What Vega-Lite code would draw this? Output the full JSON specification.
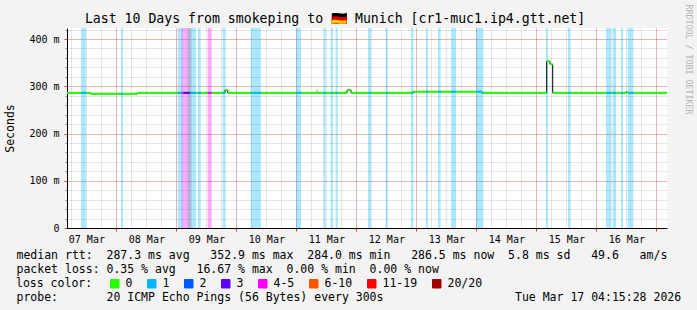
{
  "$schema": "https://vega.github.io/schema/vega-lite/v6.json",
  "width": 600,
  "height": 200,
  "autosize": {"type": "none"},
  "padding": {"left": 67, "top": 28, "right": 30, "bottom": 82},
  "background": "#f3f3f3",
  "datasets": {
    "bands": [
      {"start": "2026-03-07T09:50:00Z", "end": "2026-03-07T11:50:00Z", "loss": "1"},
      {"start": "2026-03-08T01:51:00Z", "end": "2026-03-08T02:39:00Z", "loss": "1"},
      {"start": "2026-03-09T00:32:00Z", "end": "2026-03-09T01:59:00Z", "loss": "1"},
      {"start": "2026-03-09T01:59:00Z", "end": "2026-03-09T02:47:00Z", "loss": "3"},
      {"start": "2026-03-09T02:47:00Z", "end": "2026-03-09T04:23:00Z", "loss": "4-5"},
      {"start": "2026-03-09T04:23:00Z", "end": "2026-03-09T05:44:00Z", "loss": "3"},
      {"start": "2026-03-09T05:44:00Z", "end": "2026-03-09T07:51:00Z", "loss": "1"},
      {"start": "2026-03-09T08:40:00Z", "end": "2026-03-09T09:44:00Z", "loss": "1"},
      {"start": "2026-03-09T12:32:00Z", "end": "2026-03-09T14:08:00Z", "loss": "4-5"},
      {"start": "2026-03-09T18:32:00Z", "end": "2026-03-09T19:44:00Z", "loss": "1"},
      {"start": "2026-03-10T05:44:00Z", "end": "2026-03-10T09:51:00Z", "loss": "1"},
      {"start": "2026-03-10T23:51:00Z", "end": "2026-03-11T01:51:00Z", "loss": "1"},
      {"start": "2026-03-11T10:47:00Z", "end": "2026-03-11T11:44:00Z", "loss": "1"},
      {"start": "2026-03-11T13:44:00Z", "end": "2026-03-11T14:39:00Z", "loss": "1"},
      {"start": "2026-03-11T15:44:00Z", "end": "2026-03-11T16:32:00Z", "loss": "1"},
      {"start": "2026-03-12T04:40:00Z", "end": "2026-03-12T05:52:00Z", "loss": "1"},
      {"start": "2026-03-12T11:44:00Z", "end": "2026-03-12T12:32:00Z", "loss": "1"},
      {"start": "2026-03-12T21:52:00Z", "end": "2026-03-12T22:47:00Z", "loss": "1"},
      {"start": "2026-03-13T03:52:00Z", "end": "2026-03-13T04:40:00Z", "loss": "1"},
      {"start": "2026-03-13T08:40:00Z", "end": "2026-03-13T09:44:00Z", "loss": "1"},
      {"start": "2026-03-13T13:52:00Z", "end": "2026-03-13T15:52:00Z", "loss": "1"},
      {"start": "2026-03-13T23:52:00Z", "end": "2026-03-14T02:47:00Z", "loss": "1"},
      {"start": "2026-03-15T03:52:00Z", "end": "2026-03-15T04:40:00Z", "loss": "1"},
      {"start": "2026-03-15T12:40:00Z", "end": "2026-03-15T13:44:00Z", "loss": "1"},
      {"start": "2026-03-16T03:52:00Z", "end": "2026-03-16T05:52:00Z", "loss": "1"},
      {"start": "2026-03-16T06:32:00Z", "end": "2026-03-16T07:52:00Z", "loss": "1"},
      {"start": "2026-03-16T09:52:00Z", "end": "2026-03-16T10:40:00Z", "loss": "1"},
      {"start": "2026-03-16T12:32:00Z", "end": "2026-03-16T14:48:00Z", "loss": "1"}
    ],
    "lossline": [
      {"start": "2026-03-07T09:50:00Z", "end": "2026-03-07T11:50:00Z", "loss": "1", "rtt": 286},
      {"start": "2026-03-08T01:51:00Z", "end": "2026-03-08T02:39:00Z", "loss": "1", "rtt": 284},
      {"start": "2026-03-09T00:32:00Z", "end": "2026-03-09T01:59:00Z", "loss": "1", "rtt": 286},
      {"start": "2026-03-09T01:59:00Z", "end": "2026-03-09T02:47:00Z", "loss": "4-5", "rtt": 286},
      {"start": "2026-03-09T02:47:00Z", "end": "2026-03-09T05:44:00Z", "loss": "3", "rtt": 286},
      {"start": "2026-03-09T05:44:00Z", "end": "2026-03-09T07:51:00Z", "loss": "1", "rtt": 286},
      {"start": "2026-03-09T08:40:00Z", "end": "2026-03-09T09:44:00Z", "loss": "1", "rtt": 286},
      {"start": "2026-03-09T12:32:00Z", "end": "2026-03-09T14:08:00Z", "loss": "4-5", "rtt": 286},
      {"start": "2026-03-09T18:32:00Z", "end": "2026-03-09T19:28:00Z", "loss": "1", "rtt": 286},
      {"start": "2026-03-10T05:44:00Z", "end": "2026-03-10T09:51:00Z", "loss": "1", "rtt": 286},
      {"start": "2026-03-10T23:51:00Z", "end": "2026-03-11T01:51:00Z", "loss": "1", "rtt": 286},
      {"start": "2026-03-11T10:47:00Z", "end": "2026-03-11T11:44:00Z", "loss": "1", "rtt": 286},
      {"start": "2026-03-11T13:44:00Z", "end": "2026-03-11T14:39:00Z", "loss": "1", "rtt": 286},
      {"start": "2026-03-11T15:44:00Z", "end": "2026-03-11T16:32:00Z", "loss": "1", "rtt": 286},
      {"start": "2026-03-12T04:40:00Z", "end": "2026-03-12T05:52:00Z", "loss": "1", "rtt": 286},
      {"start": "2026-03-12T11:44:00Z", "end": "2026-03-12T12:32:00Z", "loss": "1", "rtt": 286},
      {"start": "2026-03-12T21:52:00Z", "end": "2026-03-12T22:47:00Z", "loss": "1", "rtt": 286},
      {"start": "2026-03-13T03:52:00Z", "end": "2026-03-13T04:40:00Z", "loss": "1", "rtt": 288.5},
      {"start": "2026-03-13T08:40:00Z", "end": "2026-03-13T09:44:00Z", "loss": "1", "rtt": 288.5},
      {"start": "2026-03-13T13:52:00Z", "end": "2026-03-13T15:52:00Z", "loss": "1", "rtt": 288.5},
      {"start": "2026-03-13T23:52:00Z", "end": "2026-03-14T02:08:00Z", "loss": "1", "rtt": 288.5},
      {"start": "2026-03-14T02:08:00Z", "end": "2026-03-14T02:47:00Z", "loss": "1", "rtt": 286},
      {"start": "2026-03-15T03:52:00Z", "end": "2026-03-15T04:08:00Z", "loss": "1", "rtt": 286},
      {"start": "2026-03-15T12:40:00Z", "end": "2026-03-15T13:44:00Z", "loss": "1", "rtt": 286},
      {"start": "2026-03-16T03:52:00Z", "end": "2026-03-16T05:52:00Z", "loss": "1", "rtt": 286},
      {"start": "2026-03-16T06:32:00Z", "end": "2026-03-16T07:52:00Z", "loss": "1", "rtt": 286},
      {"start": "2026-03-16T09:52:00Z", "end": "2026-03-16T10:40:00Z", "loss": "1", "rtt": 286},
      {"start": "2026-03-16T12:40:00Z", "end": "2026-03-16T14:48:00Z", "loss": "1", "rtt": 286}
    ],
    "median": [
      {"start": "2026-03-07T04:15:28Z", "end": "2026-03-07T13:44:00Z", "rtt": 286},
      {"start": "2026-03-07T13:44:00Z", "end": "2026-03-08T08:32:00Z", "rtt": 284},
      {"start": "2026-03-08T08:32:00Z", "end": "2026-03-09T19:28:00Z", "rtt": 286},
      {"start": "2026-03-09T19:28:00Z", "end": "2026-03-09T20:32:00Z", "rtt": 292},
      {"start": "2026-03-09T20:32:00Z", "end": "2026-03-11T20:16:00Z", "rtt": 286},
      {"start": "2026-03-11T20:16:00Z", "end": "2026-03-11T21:52:00Z", "rtt": 292},
      {"start": "2026-03-11T21:52:00Z", "end": "2026-03-12T22:47:00Z", "rtt": 286},
      {"start": "2026-03-12T22:47:00Z", "end": "2026-03-14T02:08:00Z", "rtt": 288.5},
      {"start": "2026-03-14T02:08:00Z", "end": "2026-03-15T04:08:00Z", "rtt": 286},
      {"start": "2026-03-15T04:08:00Z", "end": "2026-03-15T05:28:00Z", "rtt": 352.9},
      {"start": "2026-03-15T05:28:00Z", "end": "2026-03-15T06:32:00Z", "rtt": 346.5},
      {"start": "2026-03-15T06:32:00Z", "end": "2026-03-16T11:59:00Z", "rtt": 286},
      {"start": "2026-03-16T11:59:00Z", "end": "2026-03-16T12:40:00Z", "rtt": 288},
      {"start": "2026-03-16T12:40:00Z", "end": "2026-03-17T04:15:28Z", "rtt": 286},
      {"start": "2026-03-17T04:15:28Z", "end": "2026-03-17T04:15:28Z", "rtt": 286}
    ],
    "smoke": [
      {"start": "2026-03-09T04:23:00Z", "end": "2026-03-09T05:44:00Z", "lo": 0, "hi": 423.3},
      {"start": "2026-03-11T07:52:00Z", "end": "2026-03-11T08:40:00Z", "lo": 286, "hi": 294},
      {"start": "2026-03-11T08:40:00Z", "end": "2026-03-11T09:52:00Z", "lo": 286, "hi": 289.5}
    ]
  },
  "resolve": {"axis": {"x": "independent", "y": "independent"}},
  "layer": [
    {
      "data": {"name": "bands"},
      "mark": {"type": "rect", "fillOpacity": 0.33},
      "encoding": {
        "x": {
          "field": "start", "type": "temporal",
          "scale": {"type": "utc", "domain": [1772856928000, 1773720928000]},
          "axis": {"orient": "bottom", "values": [1772863200000, 1772884800000, 1772906400000, 1772928000000, 1772949600000, 1772971200000, 1772992800000, 1773014400000, 1773036000000, 1773057600000, 1773079200000, 1773100800000, 1773122400000, 1773144000000, 1773165600000, 1773187200000, 1773208800000, 1773230400000, 1773252000000, 1773273600000, 1773295200000, 1773316800000, 1773338400000, 1773360000000, 1773381600000, 1773403200000, 1773424800000, 1773446400000, 1773468000000, 1773489600000, 1773511200000, 1773532800000, 1773554400000, 1773576000000, 1773597600000, 1773619200000, 1773640800000, 1773662400000, 1773684000000, 1773705600000], "grid": true, "gridColor": "#8c8c8c", "gridOpacity": 0.45, "gridDash": [1, 1], "labels": false, "ticks": false, "domain": false,
            "title": "packet\u00a0loss:\u00a00.35\u00a0%\u00a0avg\u00a0\u00a0\u00a016.67\u00a0%\u00a0max\u00a0\u00a00.00\u00a0%\u00a0min\u00a0\u00a00.00\u00a0%\u00a0now",
            "titleX": -51, "titleY": 35, "titleAlign": "left", "titleAnchor": "start", "titleBaseline": "top", "titleFontSize": 11.5}
        },
        "x2": {"field": "end"},
        "y": {"datum": 0, "type": "quantitative", "scale": {"domain": [0, 423.3], "nice": false, "zero": true}, "axis": null},
        "y2": {"datum": 423.3},
        "color": {
          "field": "loss", "type": "nominal",
          "scale": {"domain": ["0", "1", "2", "3", "4-5", "6-10", "11-19", "20/20"], "range": ["#26ff00", "#00b8ff", "#0059ff", "#5e00ff", "#ff00ff", "#ff5500", "#ff0000", "#a00000"]},
          "legend": {"orient": "none", "legendX": -51, "legendY": 250, "direction": "horizontal", "columns": 8,
            "title": "loss\u00a0color:", "titleOrient": "left", "titleAnchor": "middle", "titleBaseline": "middle", "titlePadding": 16, "titleFont": "DejaVu Sans Mono", "titleFontSize": 11.5, "titleFontWeight": "normal", "titleColor": "#000000",
            "symbolType": "square", "symbolSize": 72, "symbolStrokeColor": "#000000", "symbolStrokeWidth": 1, "symbolOpacity": 1, "labelFont": "DejaVu Sans Mono", "labelFontSize": 11.5, "labelColor": "#000000", "labelOffset": 5, "columnPadding": 12, "padding": 0, "labelLimit": 200}
        }
      }
    },
    {
      "data": {"name": "smoke"},
      "mark": {"type": "rect", "color": "#b0b0b0", "opacity": 0.5},
      "encoding": {
        "x": {
          "field": "start", "type": "temporal",
          "axis": {"orient": "bottom", "values": [1772928000000, 1773014400000, 1773100800000, 1773187200000, 1773273600000, 1773360000000, 1773446400000, 1773532800000, 1773619200000, 1773705600000], "grid": true, "gridColor": "#ff0000", "gridOpacity": 0.4, "gridDash": [1, 1], "labels": false, "ticks": true, "tickSize": 3, "tickColor": "#d04040", "domain": false,
            "title": "probe:\u00a0\u00a0\u00a0\u00a0\u00a0\u00a0\u00a020\u00a0ICMP\u00a0Echo\u00a0Pings\u00a0(56\u00a0Bytes)\u00a0every\u00a0300s\u00a0\u00a0\u00a0\u00a0\u00a0\u00a0\u00a0\u00a0\u00a0\u00a0\u00a0\u00a0\u00a0\u00a0\u00a0\u00a0\u00a0\u00a0\u00a0Tue\u00a0Mar\u00a017\u00a004:15:28\u00a02026",
            "titleX": -51, "titleY": 63, "titleAlign": "left", "titleAnchor": "start", "titleBaseline": "top", "titleFontSize": 11.5}
        },
        "x2": {"field": "end"},
        "y": {
          "field": "lo", "type": "quantitative",
          "axis": {"orient": "left", "values": [0, 20, 40, 60, 80, 100, 120, 140, 160, 180, 200, 220, 240, 260, 280, 300, 320, 340, 360, 380, 400, 420], "grid": true, "gridColor": "#8c8c8c", "gridOpacity": 0.45, "gridDash": [1, 1], "labels": false, "ticks": true, "tickSize": 2, "tickColor": "#8c8c8c", "domain": false, "title": null}
        },
        "y2": {"field": "hi"}
      }
    },
    {
      "data": {"name": "median"},
      "mark": {"type": "line", "interpolate": "step-after", "color": "#000000", "strokeWidth": 1},
      "encoding": {
        "x": {
          "field": "start", "type": "temporal",
          "axis": {
            "orient": "bottom",
            "values": [1772884800000, 1772971200000, 1773057600000, 1773144000000, 1773230400000, 1773316800000, 1773403200000, 1773489600000, 1773576000000, 1773662400000],
            "format": "%d %b",
            "labelFontSize": 10,
            "labelPadding": 6,
            "labelFlush": false,
            "labelOverlap": false,
            "labelBound": false,
            "ticks": false,
            "grid": false,
            "domain": true,
            "domainColor": "#000000",
            "domainWidth": 1,
            "title": "median\u00a0rtt:\u00a0\u00a0287.3\u00a0ms\u00a0avg\u00a0\u00a0\u00a0352.9\u00a0ms\u00a0max\u00a0\u00a0284.0\u00a0ms\u00a0min\u00a0\u00a0\u00a0286.5\u00a0ms\u00a0now\u00a0\u00a05.8\u00a0ms\u00a0sd\u00a0\u00a0\u00a049.6\u00a0\u00a0\u00a0am/s",
            "titleX": -51,
            "titleY": 21,
            "titleAlign": "left",
            "titleAnchor": "start",
            "titleBaseline": "top",
            "titleFontSize": 11.5
          }
        },
        "y": {
          "field": "rtt", "type": "quantitative",
          "axis": {
            "orient": "left",
            "values": [0, 100, 200, 300, 400],
            "labelExpr": "datum.value == 0 ? '0' : datum.value + ' m'",
            "labelFontSize": 10,
            "labelPadding": 5,
            "ticks": true,
            "tickSize": 3,
            "tickColor": "#d04040",
            "grid": true,
            "gridColor": "#ff0000",
            "gridOpacity": 0.4,
            "gridDash": [1, 1],
            "domain": true,
            "domainColor": "#000000",
            "domainWidth": 1,
            "title": "Seconds",
            "titleX": -57,
            "titleY": 100,
            "titleAngle": -90,
            "titleAlign": "center",
            "titleBaseline": "middle",
            "titleFontSize": 11.5
          }
        }
      }
    },
    {
      "data": {"name": "median"},
      "mark": {"type": "rule", "color": "#26ff00", "strokeWidth": 2},
      "encoding": {
        "x": {
          "field": "start", "type": "temporal",
          "axis": {"orient": "top", "labels": false, "ticks": false, "grid": false, "domain": false,
            "title": "Last 10 Days from smokeping to 🇩🇪 Munich [cr1-muc1.ip4.gtt.net]",
            "titleX": 17.4, "titleY": -5.5, "titleAlign": "left", "titleAnchor": "start", "titleBaseline": "alphabetic", "titleFontSize": 13.2}
        },
        "x2": {"field": "end"},
        "y": {
          "field": "rtt", "type": "quantitative",
          "axis": {"orient": "right", "labels": false, "ticks": false, "grid": false, "domain": false,
            "title": "RRDTOOL / TOBI OETIKER",
            "titleAngle": 90, "titleX": 20, "titleY": -24, "titleAlign": "left", "titleBaseline": "middle", "titleFontSize": 8.3, "titleColor": "#b4b4b4"}
        }
      }
    },
    {
      "data": {"name": "lossline"},
      "mark": {"type": "rule", "strokeWidth": 2},
      "encoding": {
        "x": {"field": "start", "type": "temporal", "axis": null},
        "x2": {"field": "end"},
        "y": {"field": "rtt", "type": "quantitative", "axis": null},
        "stroke": {
          "field": "loss", "type": "nominal",
          "scale": {"domain": ["0", "1", "2", "3", "4-5", "6-10", "11-19", "20/20"], "range": ["#26ff00", "#00b8ff", "#0059ff", "#5e00ff", "#ff00ff", "#ff5500", "#ff0000", "#a00000"]},
          "legend": null
        }
      }
    }
  ],
  "config": {
    "font": "DejaVu Sans Mono",
    "view": {"fill": "#ffffff", "stroke": null},
    "axis": {"labelFont": "DejaVu Sans Mono", "titleFont": "DejaVu Sans Mono", "labelColor": "#000000", "titleColor": "#000000", "titleFontWeight": "normal"},
    "legend": {"symbolStrokeColor": "#000000", "symbolStrokeWidth": 1}
  }
}
